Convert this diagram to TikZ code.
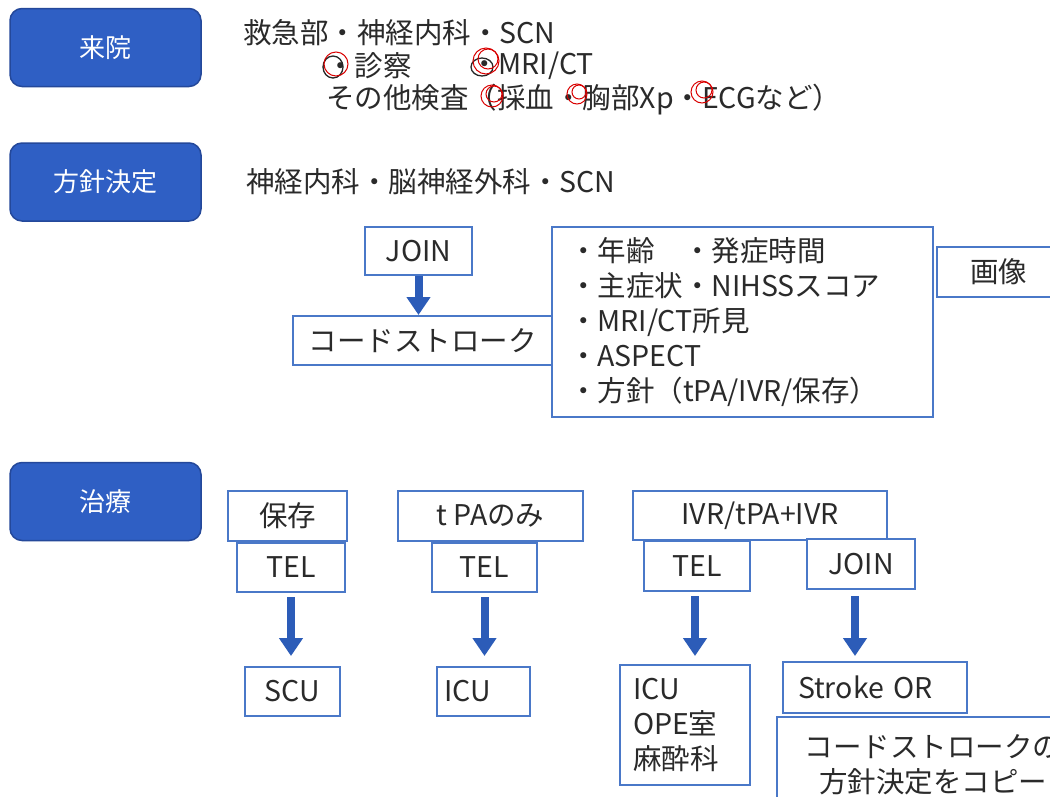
\documentclass[tikz,border=0pt]{standalone}
\usepackage{fontspec}
\setmainfont{Noto Sans CJK JP}
\usetikzlibrary{arrows.meta}
\definecolor{bluefill}{HTML}{2F5FC4}
\definecolor{blueedge}{HTML}{24489A}
\definecolor{boxedge}{HTML}{4A78C8}
\definecolor{arrowblue}{HTML}{2C5CB8}
\definecolor{txt}{HTML}{2A2A2A}
\newcommand{\bodyfont}{\fontsize{28.5}{35}\selectfont}
\tikzset{
  phase/.style={draw=blueedge, fill=bluefill, rounded corners=12pt, line width=1.5pt,
    text=white, font=\fontsize{26}{30}\selectfont, minimum width=191pt, minimum height=78pt},
  box/.style={draw=boxedge, line width=2pt, fill=white, text=txt, font=\bodyfont, inner sep=0pt},
  lbl/.style={text=txt, font=\bodyfont, anchor=west, inner sep=0pt},
  bigarrow/.style={draw=arrowblue, line width=8pt, -{Triangle[width=23pt,length=18pt]}},
  redmark/.style={draw=red!85!black, line width=1pt},
  blackmark/.style={draw=black!85, line width=1.3pt}
}
\begin{document}
\begin{tikzpicture}[x=1pt,y=-1pt]
\useasboundingbox (0,0) rectangle (1050,796);
\fill[white] (0,0) rectangle (1050,796);

% phase boxes
\node[phase] (p1) at (105.5,47.5) {来院};
\node[phase] (p2) at (105.5,182) {方針決定};
\node[phase] (p3) at (105.5,501.5) {治療};

% header texts
\node[lbl] (t1) at (243,33) {救急部・神経内科・SCN};
\node[lbl] (t2) at (326,66) {・診察};
\node[lbl] (t3) at (470,66) {・MRI/CT};
\node[lbl] (t4) at (326,100) {その他検査（採血・胸部Xp・ECGなど）};
\node[lbl] (t5) at (246,182) {神経内科・脳神経外科・SCN};

% hand-drawn marks
\draw[blackmark] (333,67) ellipse (10pt and 11pt);
\draw[redmark] (336,64) circle (12pt);
\draw[blackmark] (482,67) ellipse (11pt and 9pt);
\draw[redmark] (486,61) circle (13pt);
\draw[redmark] (488,59) circle (10pt);
\draw[redmark] (492,96) circle (11pt);
\draw[redmark] (494,94) circle (8pt);
\draw[redmark] (577,94) circle (10pt);
\draw[redmark] (579,92) circle (7pt);
\draw[redmark] (702,92) circle (11pt);
\draw[redmark] (704,90) circle (8pt);

% policy section
\node[box, minimum width=107pt, minimum height=48pt] (join1) at (418.5,251) {JOIN};
\node[box, minimum width=259pt, minimum height=49pt] (code) at (422.5,340.5) {コードストローク};
\node[box, minimum width=381pt, minimum height=190pt, align=left, text width=347pt, inner xsep=17pt] (big) at (742.5,322)
  {・年齢　・発症時間\\・主症状・NIHSSスコア\\・MRI/CT所見\\・ASPECT\\・方針（tPA/IVR/保存）};
\node[box, minimum width=123pt, minimum height=50pt] (img) at (998.5,272) {画像};
\draw[bigarrow] (join1.south) -- (join1.south |- code.north);

% treatment section
\node[box, minimum width=119pt, minimum height=50pt] (hozon) at (287.5,516) {保存};
\node[box, minimum width=108pt, minimum height=49pt] (tel1) at (291,567.5) {TEL};
\node[box, minimum width=95pt, minimum height=49pt] (scu) at (292.5,691.5) {SCU};

\node[box, minimum width=185pt, minimum height=50pt] (tpa) at (490.5,516) {t PAのみ};
\node[box, minimum width=105pt, minimum height=49pt] (tel2) at (484.5,567.5) {TEL};
\node[box, minimum width=93pt, minimum height=49pt, align=left, text width=79pt, inner xsep=7pt] (icu1) at (483.5,691.5) {ICU};

\node[box, minimum width=254pt, minimum height=49pt] (ivr) at (760,515.5) {IVR/tPA+IVR};
\node[box, minimum width=106pt, minimum height=50pt] (tel3) at (697,566) {TEL};
\node[box, minimum width=108pt, minimum height=50pt] (join2) at (861,564) {JOIN};
\node[box, minimum width=130pt, minimum height=120pt, align=left, text width=104pt, inner xsep=13pt] (icu2) at (685,725) {ICU\\OPE室\\麻酔科};
\node[box, minimum width=184pt, minimum height=51pt, align=left, text width=154pt, inner xsep=15pt] (sor) at (875,687.5) {Stroke OR};
\node[box, minimum width=312pt, minimum height=96pt, align=center, fill=white] (copy) at (933,765)
  {コードストロークの\\方針決定をコピー};

\coordinate (a1s) at ([yshift=-4pt]tel1.south);
\coordinate (a2s) at ([yshift=-4pt]tel2.south);
\coordinate (a3s) at ([xshift=-2pt,yshift=-4pt]tel3.south);
\coordinate (a4s) at ([xshift=-6pt,yshift=-6pt]join2.south);
\draw[bigarrow] (a1s) -- ([yshift=10pt]a1s |- scu.north);
\draw[bigarrow] (a2s) -- ([yshift=10pt]a2s |- icu1.north);
\draw[bigarrow] (a3s) -- ([yshift=8pt]a3s |- icu2.north);
\draw[bigarrow] (a4s) -- ([yshift=5pt]a4s |- sor.north);
\end{tikzpicture}
\end{document}
